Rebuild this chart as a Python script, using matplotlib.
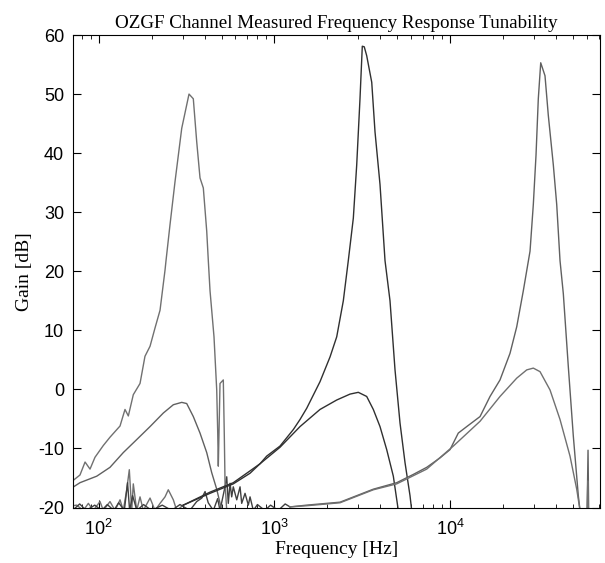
import numpy as np
import matplotlib.pyplot as plt

plt.rcParams['font.family'] = ['Liberation Sans', 'DejaVu Sans']
plt.rcParams['mathtext.default'] = 'regular'
plt.rcParams['axes.unicode_minus'] = False

# Channel 1 (tuned near 320 Hz)
ch1_high_f = [71.7, 78.3, 83.7, 89.3, 95.3, 106.3, 116, 132.3, 141.2, 147.5, 157.4, 171.9,
              183.4, 196, 209.2, 223.4, 238.5, 241.6, 254.6, 271.9, 296.8, 326.5, 345.4,
              361.2, 377.1, 393.8, 411.7, 420.4, 429.9, 452.9, 469.3, 475.5, 479.2, 490,
              511.6, 518.4, 523.2, 535]
ch1_high_g = [-15.4, -14.5, -12.3, -13.5, -11.5, -9.5, -8.1, -6.2, -3.4, -4.5, -0.9, 1.0,
              5.6, 7.3, 10.4, 13.4, 20.2, 21.8, 27.9, 35.2, 44.2, 50.0, 49.2,
              41.9, 35.8, 34.1, 26.8, 21.8, 16.7, 8.9, -0.1, -7.3, -13.0, 1.0,
              1.6, -7.9, -15.7, -20.5]
ch1_low_f = [71.1, 78.3, 97.5, 116, 138.1, 164.6, 196, 233.3, 265.9, 296.8, 316.8, 345.4,
             377.1, 411.7, 439.5, 469.3, 501]
ch1_low_g = [-16.6, -15.8, -14.7, -13.2, -10.7, -8.5, -6.3, -4.0, -2.6, -2.2, -2.4, -4.6,
             -7.4, -10.7, -14.1, -16.9, -20.5]

# Channel 2 (tuned near 3.2 kHz)
ch2_high_f = [303, 430, 583, 726, 827, 903, 1075, 1280, 1397, 1525, 1815, 2070, 2259, 2463,
              2629, 2808, 2935, 3064, 3158, 3240, 3345, 3573, 3730, 3982, 4252, 4539, 4847,
              5175, 5525, 5899, 6031]
ch2_high_g = [-19.6, -17.4, -15.8, -13.8, -12.6, -11.3, -9.6, -6.8, -5.1, -3.2, 1.3, 5.5, 8.9, 15.0,
              21.8, 29.0, 38.0, 49.2, 58.1, 58.0, 56.5, 52.0, 43.6, 34.7, 21.8, 15.0, 3.3,
              -5.7, -12.4, -18.0, -20.5]
ch2_low_f = [303, 430, 583, 726, 827, 1075, 1397, 1815, 2259, 2689, 2997, 3345, 3648, 3982,
             4347, 4741, 5061]
ch2_low_g = [-19.6, -17.6, -16.0, -14.2, -12.6, -9.8, -6.3, -3.4, -1.8, -0.8, -0.5, -1.2, -3.4,
             -6.3, -10.2, -14.7, -20.5]

# Channel 3 (tuned near 33 kHz)
ch3_high_f = [1226, 1525, 2359, 3648, 4956, 6158, 7340, 8738, 9961, 11100, 12400, 14760, 16820,
              19170, 21850, 23860, 26010, 28400, 29650, 30720, 31650, 32670, 34550, 36080,
              38530, 40280, 42060, 43920, 46900, 50060, 53450, 54660, 60000, 60700, 61200]
ch3_high_g = [-19.9, -19.6, -19.1, -16.9, -15.8, -14.4, -13.2, -11.6, -10.2, -7.4, -6.3, -4.6, -1.2,
              1.6, 6.1, 10.6, 16.7, 23.4, 31.3, 39.7, 49.2, 55.3, 53.1, 46.4,
              38.0, 31.3, 21.8, 16.2, 3.8, -7.9, -18.0, -20.5, -20.5, -10.3, -20.5]
ch3_low_f = [1226, 1525, 2359, 3648, 4956, 7340, 10400, 14760, 19170, 23860, 27200, 29650, 32370,
             36900, 42060, 47940, 52340, 54660, 60000, 60500, 61000]
ch3_low_g = [-19.9, -19.7, -19.2, -17.0, -16.0, -13.5, -9.6, -5.4, -1.2, 1.9, 3.3, 3.6, 3.0,
             -0.1, -5.1, -11.3, -16.9, -20.5, -20.5, -15.5, -20.5]

# measurement noise floor at low frequencies
noise1_f = [71, 75, 81.8, 87.4, 93.2, 101.8, 106.3, 116, 123.9, 132.3, 138.1, 144.4, 149.4, 154.2,
            157.4, 164.6, 171.9, 179.5, 196, 209.2, 223.4, 238.5, 248.9, 265.9, 277.9, 303]
noise1_g = [-19.7, -19.6, -20.5, -19.3, -20.5, -19.0, -20.5, -19.0, -20.5, -18.7, -20.5, -17.0, -13.6,
            -20.5, -16.0, -20.5, -18.2, -20.5, -18.4, -20.5, -19.3, -18.2, -17.0, -18.7, -20.5, -19.6]
noise2_f = [71, 78, 85, 95, 104, 112, 122, 130, 140, 146, 150, 156, 165, 180, 200, 230, 260, 290,
            330, 361, 386, 403, 420, 449, 475, 490, 523, 535, 546, 559, 571, 583, 610, 637, 651,
            680, 710, 726, 758, 800, 880, 950, 1050, 1150, 1226]
noise2_g = [-20.5, -19.4, -20.5, -19.6, -20.5, -19.5, -20.5, -19.2, -20.5, -15.8, -20.5, -18.0, -20.5,
            -19.5, -20.5, -19.6, -20.5, -19.5, -20.5, -19.0, -18.4, -17.3, -19.2, -20.5, -18.5, -20.5,
            -16.5, -14.8, -19.3, -15.9, -18.2, -16.5, -18.7, -16.5, -19.3, -17.6, -19.6, -18.2,
            -20.5, -19.5, -20.5, -19.6, -20.5, -19.4, -19.9]

fig = plt.figure(figsize=(6.05, 5.63), dpi=100)
ax = fig.add_axes([72.5 / 605, 1 - 507.5 / 563, 527.5 / 605, 472.5 / 563])

ax.plot(noise1_f, noise1_g, color='#707070', lw=1)
ax.plot(noise2_f, noise2_g, color='#404040', lw=1)
ax.plot(ch1_high_f, ch1_high_g, color='#707070', lw=1)
ax.plot(ch1_low_f, ch1_low_g, color='#606060', lw=1)
ax.plot(ch2_high_f, ch2_high_g, color='#303030', lw=1)
ax.plot(ch2_low_f, ch2_low_g, color='#303030', lw=1)
ax.plot(ch3_high_f, ch3_high_g, color='#606060', lw=1)
ax.plot(ch3_low_f, ch3_low_g, color='#707070', lw=1)

ax.set_xscale('log')
ax.set_xlim(71, 71000)
ax.set_ylim(-20, 60)
ax.set_yticks(range(-20, 61, 10))
ax.tick_params(which='both', direction='in', top=True, right=True, labelsize=13)
ax.tick_params(which='major', length=6)
ax.tick_params(which='minor', length=3)
ax.tick_params(axis='y', pad=6)
ax.tick_params(axis='x', pad=8)

ax.set_title('OZGF Channel Measured Frequency Response Tunability',
             fontfamily='Liberation Serif', fontsize=13.7, pad=5)
ax.set_xlabel('Frequency [Hz]', fontfamily='Liberation Serif', fontsize=14, labelpad=2)
ax.set_ylabel('Gain [dB]', fontfamily='Liberation Serif', fontsize=14)

fig.savefig('out.png', dpi=100)
